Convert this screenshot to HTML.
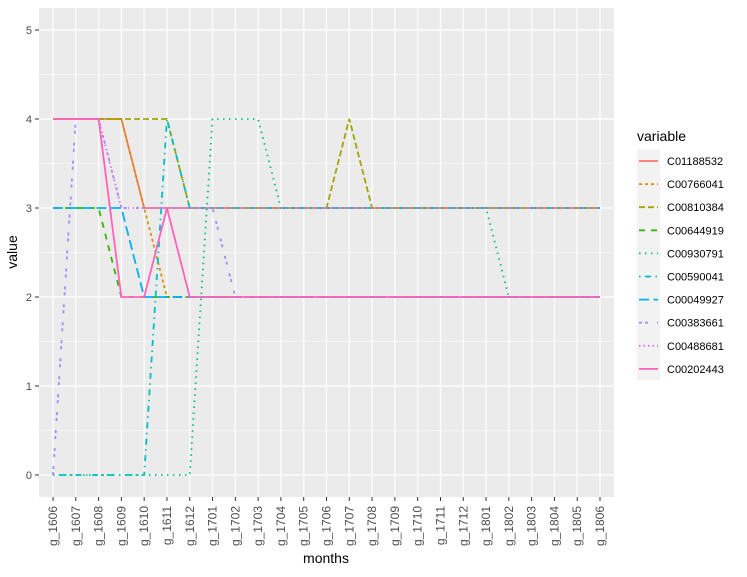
<!DOCTYPE html>
<html><head><meta charset="utf-8"><style>
body{margin:0;background:#fff;font-family:"Liberation Sans",sans-serif}
</style></head><body>
<svg id="chart" width="747" height="572" xmlns="http://www.w3.org/2000/svg" font-family="Liberation Sans, sans-serif">
<rect x="0" y="0" width="747" height="572" fill="#fff"/>
<rect x="39" y="8" width="575" height="489" fill="#ebebeb"/>
<g id="grid"></g><g id="series"></g><g id="axes"></g><g id="legend"></g>
<text x="326" y="563" font-size="14" text-anchor="middle" fill="#000">months</text>
<text transform="translate(17,252) rotate(-90)" font-size="14" text-anchor="middle" fill="#000">value</text>
</svg>
<script>
const categories=["g_1606","g_1607","g_1608","g_1609","g_1610","g_1611","g_1612","g_1701","g_1702","g_1703","g_1704","g_1705","g_1706","g_1707","g_1708","g_1709","g_1710","g_1711","g_1712","g_1801","g_1802","g_1803","g_1804","g_1805","g_1806"];
const yTicks=[0,1,2,3,4,5];
const seriesNames=["C01188532","C00766041","C00810384","C00644919","C00930791","C00590041","C00049927","C00383661","C00488681","C00202443"];
const s0=[4,4,4,4,3,3,3,3,3,3,3,3,3,3,3,3,3,3,3,3,3,3,3,3,3];
const s1=[4,4,4,4,3,2,2,2,2,2,2,2,2,2,2,2,2,2,2,2,2,2,2,2,2];
const s2=[4,4,4,4,4,4,3,3,3,3,3,3,3,4,3,3,3,3,3,3,3,3,3,3,3];
const s3=[3,3,3,2,2,2,2,2,2,2,2,2,2,2,2,2,2,2,2,2,2,2,2,2,2];
const s4=[0,0,0,0,0,0,0,4,4,4,3,3,3,3,3,3,3,3,3,3,2,2,2,2,2];
const s5=[0,0,0,0,0,4,3,3,3,3,3,3,3,3,3,3,3,3,3,3,3,3,3,3,3];
const s6=[3,3,3,3,2,2,2,2,2,2,2,2,2,2,2,2,2,2,2,2,2,2,2,2,2];
const s7=[0,4,4,3,3,3,3,3,2,2,2,2,2,2,2,2,2,2,2,2,2,2,2,2,2];
const s8=[4,4,4,3,3,3,3,3,3,3,3,3,3,3,3,3,3,3,3,3,3,3,3,3,3];
const s9=[4,4,4,2,2,3,2,2,2,2,2,2,2,2,2,2,2,2,2,2,2,2,2,2,2];
const allSeries=[s0,s1,s2,s3,s4,s5,s6,s7,s8,s9];
const colors=["#F8766D","#D89000","#A3A500","#39B600","#00BF7D","#00BFC4","#00B0F6","#9590FF","#E76BF3","#FF62BC"];
const dashes=["","3,3","6,3","6,6","1.5,4.5","1.5,4.5,6,4.5","10,4.5","3,3,3,9","1.5,3",""];
const NS="http://www.w3.org/2000/svg";
const X0=53,DX=(600-53)/24,Y0=475,DY=89;
function xs(i){return X0+i*DX}
function ys(v){return Y0-v*DY}
function mk(t,a,p){const e=document.createElementNS(NS,t);for(const k in a)e.setAttribute(k,a[k]);p.appendChild(e);return e}
const grid=document.getElementById('grid'),axes=document.getElementById('axes'),ser=document.getElementById('series'),leg=document.getElementById('legend');
for(let k=0;k<yTicks.length-1;k++){const l=mk('line',{x1:39,x2:614,y1:ys(yTicks[k]+0.5),y2:ys(yTicks[k]+0.5),stroke:'#fff','stroke-width':0.6},grid);
}
yTicks.forEach(v=>{const l=mk('line',{x1:39,x2:614,y1:ys(v),y2:ys(v),stroke:'#fff','stroke-width':1.2},grid);

const t=mk('line',{x1:35,x2:39,y1:ys(v),y2:ys(v),stroke:'#333','stroke-width':1},axes);

const tx=mk('text',{x:32,y:ys(v)+4,'font-size':11,'text-anchor':'end',fill:'#4d4d4d'},axes);tx.textContent=v;
});
categories.forEach((c,i)=>{const l=mk('line',{x1:xs(i),x2:xs(i),y1:8,y2:497,stroke:'#fff','stroke-width':1.2},grid);

const t=mk('line',{x1:xs(i),x2:xs(i),y1:497,y2:501,stroke:'#333','stroke-width':1},axes);

const tx=mk('text',{transform:`translate(${xs(i)+4},506) rotate(-90)`,'font-size':12,'text-anchor':'end',fill:'#4d4d4d'},axes);tx.textContent=c;
});
allSeries.forEach((s,k)=>{const p=mk('polyline',{points:s.map((v,i)=>xs(i)+','+ys(v)).join(' '),fill:'none',stroke:colors[k],'stroke-width':1.8,'stroke-dasharray':dashes[k]},ser);
});
const lt=mk('text',{x:637,y:141,'font-size':14,fill:'#000'},leg);lt.textContent='variable';

seriesNames.forEach((n,k)=>{const y=161+k*23.1;
const g=mk('g',{},leg);
mk('rect',{x:637,y:y-11.5,width:23,height:23,fill:'#f2f2f2'},g);
mk('line',{x1:639,x2:658,y1:y,y2:y,stroke:colors[k],'stroke-width':1.8,'stroke-dasharray':dashes[k]},g);
const t=mk('text',{x:667,y:y+4,'font-size':11,fill:'#000'},g);t.textContent=n;});
</script>
</body></html>
